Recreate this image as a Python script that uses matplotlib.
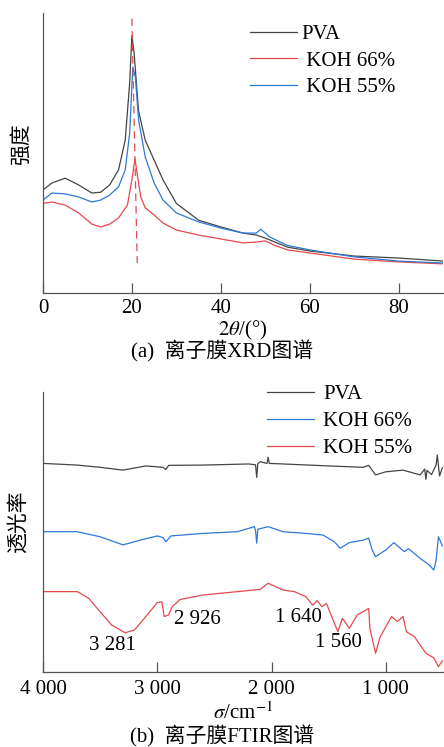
import matplotlib
matplotlib.use("Agg")
import matplotlib.pyplot as plt
import numpy as np

plt.rcParams['font.family'] = ['Liberation Serif', 'Noto Sans CJK SC', 'DejaVu Sans']
plt.rcParams['mathtext.fontset'] = 'stix'

# ---------------- XRD data ----------------
xrd_pva_x = [0, 2, 5, 8, 11, 13, 15, 17, 18.5, 19.5, 20, 20.5, 21.5, 23, 25, 27, 30, 35, 40, 45, 48, 50, 55, 60, 70, 80, 90]
xrd_pva_y = [36.8, 39.3, 41, 38.6, 35.7, 36, 38.6, 44, 54.6, 75, 92, 85.7, 65, 54.6, 47.5, 40.4, 32, 26, 23.6, 21.4, 20.7, 19.6, 16.4, 15, 13.2, 12.5, 11.4]

xrd_k55_x = [0, 2, 5, 8, 11, 13, 15, 17, 18.5, 19.5, 20.2, 20.8, 21.5, 23, 25, 27, 30, 35, 40, 45, 48, 49, 51, 55, 60, 70, 80, 90]
xrd_k55_y = [33.2, 35.7, 35.4, 34.3, 32.5, 33.2, 35, 37.9, 44, 57, 80.7, 77, 61.8, 48.6, 39.3, 33.2, 28.6, 25.4, 23.2, 21.4, 21.4, 22.8, 20, 17, 15.4, 12.9, 11.4, 10.7]

xrd_k66_x = [0, 2, 5, 8, 11, 13, 15, 17, 19, 20, 20.7, 21.3, 22, 23, 25, 27, 30, 35, 40, 45, 48, 50, 52, 55, 60, 70, 80, 90]
xrd_k66_y = [32, 32.5, 31.4, 28.6, 24.6, 23.6, 24.6, 26.8, 31.4, 40.4, 47.9, 41.4, 34.3, 30.4, 27.9, 25, 22.5, 20.7, 19.3, 17.9, 18.2, 18.6, 17.1, 15.4, 14.3, 12.1, 11.1, 10.4]

xrd_ref_x = [20.0, 21.2]
xrd_ref_y = [98, 10.7]

xrd_ticks = [0, 20, 40, 60, 80]

# ---------------- FTIR data ----------------
ir_pva_x = [4000, 3700, 3500, 3300, 3100, 2950, 2926, 2900, 2600, 2200, 2140, 2130, 2120, 2100, 2040, 2030, 2020, 1900, 1500, 1200, 1150, 1090, 1000, 850, 700, 660, 650, 640, 600, 560, 550, 530, 505]
ir_pva_y = [74.5, 73.9, 73.1, 72.1, 73.6, 73.1, 72.3, 73.8, 73.9, 74.3, 74.0, 69.5, 74.5, 75.1, 74.5, 76.7, 74.5, 74.3, 73.6, 73.1, 73.8, 70.4, 71.5, 72.1, 70.4, 72.5, 68.8, 72.0, 70.5, 74.0, 77.5, 70.0, 73.0]

ir_k66_x = [4000, 3700, 3500, 3300, 3150, 3000, 2950, 2926, 2880, 2600, 2300, 2150, 2140, 2130, 2120, 2030, 1900, 1700, 1550, 1450, 1400, 1320, 1200, 1150, 1120, 1090, 1000, 930, 840, 800, 700, 620, 580, 560, 540, 505]
ir_k66_y = [50.1, 50.1, 48.3, 45.4, 47.1, 48.6, 48.0, 46.5, 48.6, 49.5, 50.1, 51.9, 50.5, 46.0, 51.0, 51.9, 50.1, 49.5, 48.9, 46.5, 44.2, 46.2, 47.1, 47.8, 43.6, 41.2, 43.6, 46.2, 43.0, 44.0, 40.6, 38.2, 36.4, 40.0, 48.3, 45.0]

ir_k55_x = [4000, 3700, 3600, 3500, 3400, 3281, 3200, 3100, 3000, 2960, 2940, 2900, 2870, 2800, 2600, 2300, 2100, 2030, 1900, 1800, 1700, 1640, 1600, 1560, 1520, 1450, 1420, 1380, 1320, 1250, 1150, 1140, 1090, 1050, 950, 900, 850, 820, 750, 650, 580, 540, 505]
ir_k55_y = [28.7, 28.7, 26.3, 21.5, 16.8, 14.0, 15.0, 19.8, 24.8, 25.1, 19.8, 20.4, 23.3, 25.9, 27.5, 28.7, 29.5, 31.7, 29.3, 28.7, 26.9, 23.9, 25.5, 23.3, 24.5, 17.4, 14.4, 19.2, 15.6, 20.4, 22.7, 15.6, 6.7, 12.6, 19.8, 18.0, 19.8, 14.4, 12.6, 6.7, 5.0, 1.9, 4.0]

ir_ticks = [4000, 3000, 2000, 1000]
ir_tick_labels = ['4 000', '3 000', '2 000', '1 000']

ir_peak_labels = ['3 281', '2 926', '1 640', '1 560']
ir_peak_x = [3395, 2649, 1763, 1412]
ir_peak_y = [9.6, 18.6, 19.6, 10.4]

GRAY = '#454545'
RED = '#e5484d'
BLUE = '#2e78d6'

W, H = 444, 747
fig = plt.figure(figsize=(W / 100, H / 100), dpi=100)

def ax_rect(l, t, r, b):
    return [l / W, 1 - b / H, (r - l) / W, (b - t) / H]

FS = 15
LW = 0.9

def style(ax):
    ax.set_yticks([])
    ax.spines['top'].set_visible(False)
    ax.spines['right'].set_visible(False)
    for s in ['left', 'bottom']:
        ax.spines[s].set_color('#555555')
        ax.spines[s].set_linewidth(0.9)

# ---------- (a) XRD ----------
ax1 = fig.add_axes(ax_rect(43, 13, 443, 293))
ax1.plot(xrd_pva_x, xrd_pva_y, color=GRAY, lw=LW, label='PVA')
ax1.plot(xrd_k66_x, xrd_k66_y, color=RED, lw=LW, label=' KOH 66%')
ax1.plot(xrd_k55_x, xrd_k55_y, color=BLUE, lw=LW, label=' KOH 55%')
ax1.plot(xrd_ref_x, xrd_ref_y, color=RED, lw=LW, ls=(0, (6, 4)))
ax1.set_xlim(0, 90)
ax1.set_ylim(0, 100)
ax1.set_xticks(xrd_ticks)
style(ax1)
ax1.tick_params(axis='x', direction='in', length=7, width=0.9, color='#555555', labelsize=FS, pad=4)
ax1.set_ylabel('强度', fontsize=FS)
ax1.yaxis.set_label_coords(-0.027, 0.532)
ax1.set_xlabel(r'$2\theta$/(°)', fontsize=FS, labelpad=1)
ax1.legend(loc='upper left', bbox_to_anchor=(250 / W, 1 - 24.5 / H), bbox_transform=fig.transFigure,
           frameon=False, fontsize=FS, handlelength=2.25, handletextpad=0.2,
           labelspacing=0.33, borderpad=0, borderaxespad=0)
fig.text(0.5, 1 - 351 / H, '(a)  离子膜XRD图谱', ha='center', va='center', fontsize=FS)

# ---------- (b) FTIR ----------
ax2 = fig.add_axes(ax_rect(43, 392, 443, 672))
ax2.plot(ir_pva_x, ir_pva_y, color=GRAY, lw=LW, label='PVA')
ax2.plot(ir_k66_x, ir_k66_y, color=BLUE, lw=LW, label='KOH 66%')
ax2.plot(ir_k55_x, ir_k55_y, color=RED, lw=LW, label='KOH 55%')
ax2.set_xlim(4000, 500)
ax2.set_ylim(0, 100)
ax2.set_xticks(ir_ticks)
ax2.set_xticklabels(ir_tick_labels)
style(ax2)
ax2.tick_params(axis='x', direction='in', length=7, width=0.9, color='#555555', labelsize=FS, pad=6)
ax2.set_ylabel('透光率', fontsize=FS)
ax2.yaxis.set_label_coords(-0.035, 0.536)
ax2.set_xlabel(r'$\sigma$/cm$^{-1}$', fontsize=FS, labelpad=2)
for lbl, px, py in zip(ir_peak_labels, ir_peak_x, ir_peak_y):
    ax2.text(px, py, lbl, ha='center', va='center', fontsize=FS)
ax2.legend(loc='upper left', bbox_to_anchor=(267 / W, 1 - 384.5 / H), bbox_transform=fig.transFigure,
           frameon=False, fontsize=FS, handlelength=2.25, handletextpad=0.45,
           labelspacing=0.36, borderpad=0, borderaxespad=0)
fig.text(0.5, 1 - 736 / H, '(b)  离子膜FTIR图谱', ha='center', va='center', fontsize=FS)

fig.savefig('out.png', dpi=100)
